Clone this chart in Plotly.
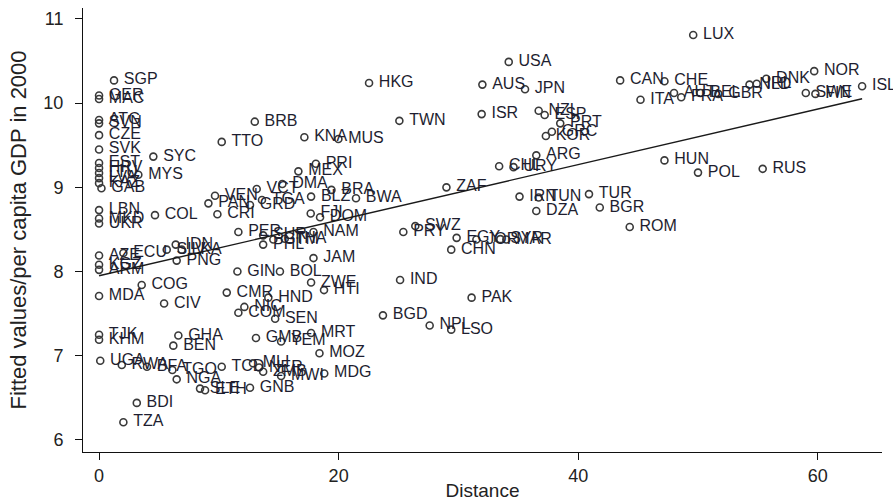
import plotly.graph_objects as go

codes = ["GER","MAC","ATG","SVN","CZE","SVK","EST","HRV","LTU","LVA","KAZ","GAB",
         "LBN","MKD","UKR","AZE","KGZ","ARM","MDA","TJK","KHM","UGA",
         "SGP","SYC","MYS","TTO","BRB","COL","CRI","PAN","VEN","PER","ECU","IDN","SLV","LKA",
         "PNG","GIN","COG","CIV","CMR","NIC","COM","GHA","BEN","RWA","BFA","TGO","TCD","NGA",
         "SLE","ETH","GNB","BDI","TZA","HKG","TWN","KNA","MUS","PRI","MEX","DMA","VCT","BRA",
         "BLZ","BWA","ZAF","TGA","GRD","FJI","DOM","NAM","SUR","GTM","THA","PHL","JAM","BOL",
         "ZWE","HTI","HND","SEN","IND","SWZ","PRY","BGD","PAK","EGY","JOR","SYR","MAR","CHN",
         "IRN","TUN","TUR","DZA","BGR","ROM","USA","AUS","JPN","ISR","NZL","ESP","PRT","GRC",
         "KOR","CAN","CHE","ITA","ARG","CHL","URY","HUN","LUX","NOR","ISL","SWE","FIN","DNK",
         "IRL","NLD","AUT","FRA","BEL","GBR","POL","RUS","NPL","LSO","GMB","YEM","MRT","MOZ",
         "MDG","MLI","NER","ZMB","MWI"]

distance = [0.0,0.0,0.0,0.0,0.0,0.0,0.0,0.0,0.0,0.0,0.0,0.2,
            0.0,0.0,0.0,0.0,0.0,0.0,0.0,0.0,0.0,0.1,
            1.25,4.53,3.28,10.24,13.0,4.67,9.88,9.13,9.68,11.63,2.03,6.4,5.65,6.9,
            6.48,11.55,3.56,5.43,10.66,12.13,11.63,6.62,6.2,1.9,4.0,6.12,10.24,6.48,
            8.43,8.85,12.6,3.15,2.03,22.54,25.07,17.14,19.98,18.1,16.64,15.3,13.16,19.4,
            17.7,21.45,29.0,13.6,12.6,17.67,18.45,17.9,13.7,14.55,15.5,13.7,17.9,15.1,
            17.7,18.78,14.13,14.7,25.13,26.4,25.4,23.7,31.1,29.85,31.5,33.5,34.0,29.4,
            35.1,36.7,40.9,36.5,41.8,44.3,34.2,32.0,35.56,31.94,36.7,37.2,38.5,37.8,
            37.3,43.5,47.2,45.2,36.5,33.4,34.6,47.2,49.6,59.7,63.7,59.0,59.8,55.7,
            54.9,54.3,48.0,48.6,50.2,51.7,50.0,55.4,27.6,29.4,13.1,15.2,17.7,18.4,
            18.8,12.85,13.36,13.7,15.2]

gdp = [10.09,10.05,9.80,9.76,9.62,9.45,9.29,9.23,9.17,9.11,9.05,8.99,
       8.73,8.63,8.57,8.19,8.08,8.02,7.71,7.25,7.19,6.94,
       10.27,9.365,9.15,9.54,9.78,8.67,8.68,8.81,8.90,8.47,8.22,8.32,8.26,8.26,
       8.13,8.0,7.84,7.62,7.75,7.58,7.51,7.24,7.12,6.89,6.87,6.83,6.87,6.72,
       6.61,6.59,6.62,6.44,6.21,10.24,9.79,9.595,9.575,9.28,9.19,9.04,8.98,8.97,
       8.89,8.87,9.0,8.85,8.79,8.69,8.645,8.47,8.43,8.38,8.39,8.32,8.16,8.0,
       7.87,7.78,7.69,7.44,7.90,8.54,8.47,7.48,7.69,8.40,8.38,8.385,8.38,8.26,
       8.89,8.88,8.92,8.72,8.76,8.53,10.49,10.22,10.165,9.87,9.91,9.86,9.76,9.66,
       9.61,10.27,10.26,10.04,9.38,9.25,9.24,9.32,10.81,10.38,10.20,10.12,10.11,10.29,
       10.23,10.22,10.12,10.07,10.12,10.11,9.175,9.22,7.36,7.31,7.21,7.17,7.27,7.03,
       6.79,6.91,6.86,6.81,6.76]

# fitted line
fit_intercept = 7.95
fit_slope = 0.033

x_ticks = [0, 20, 40, 60]
y_ticks = [6, 7, 8, 9, 10, 11]

line_x = [min(distance), max(distance)]
line_y = [fit_intercept + fit_slope * v for v in line_x]

labels = ["\u00a0" + c for c in codes]

FONT = "Liberation Sans, Arial, Helvetica, sans-serif"

fig = go.Figure()
fig.add_trace(go.Scatter(
    x=distance, y=gdp, text=labels, mode="markers+text",
    textposition="middle right",
    textfont=dict(family=FONT, size=16, color="#1e1e30"),
    marker=dict(symbol="circle-open", size=7, color="#3a3a3a", line=dict(width=1.6)),
    cliponaxis=False, showlegend=False, hoverinfo="text"))
fig.add_trace(go.Scatter(
    x=line_x, y=line_y, mode="lines",
    line=dict(color="#1a1a1a", width=1.4), showlegend=False))

axis_common = dict(showline=True, linecolor="#111", linewidth=1, ticks="outside",
                   ticklen=7, tickcolor="#111", tickwidth=1, showgrid=False, zeroline=False,
                   automargin=False,
                   tickfont=dict(family=FONT, size=18, color="#222"))

fig.update_layout(
    width=893, height=501,
    margin=dict(l=83, r=11, t=8, b=49),
    paper_bgcolor="white", plot_bgcolor="white",
    xaxis=dict(range=[-1.34, 65.36], tickvals=x_ticks,
               title=dict(text="Distance", font=dict(family=FONT, size=19, color="#222"), standoff=2),
               **axis_common),
    yaxis=dict(range=[5.857, 11.13], tickvals=y_ticks, ticklabelstandoff=8,
               title=dict(text="Fitted values/per capita GDP in 2000",
                          font=dict(family=FONT, size=22, color="#222"), standoff=10),
               **axis_common),
)

fig.write_html("out.html")
